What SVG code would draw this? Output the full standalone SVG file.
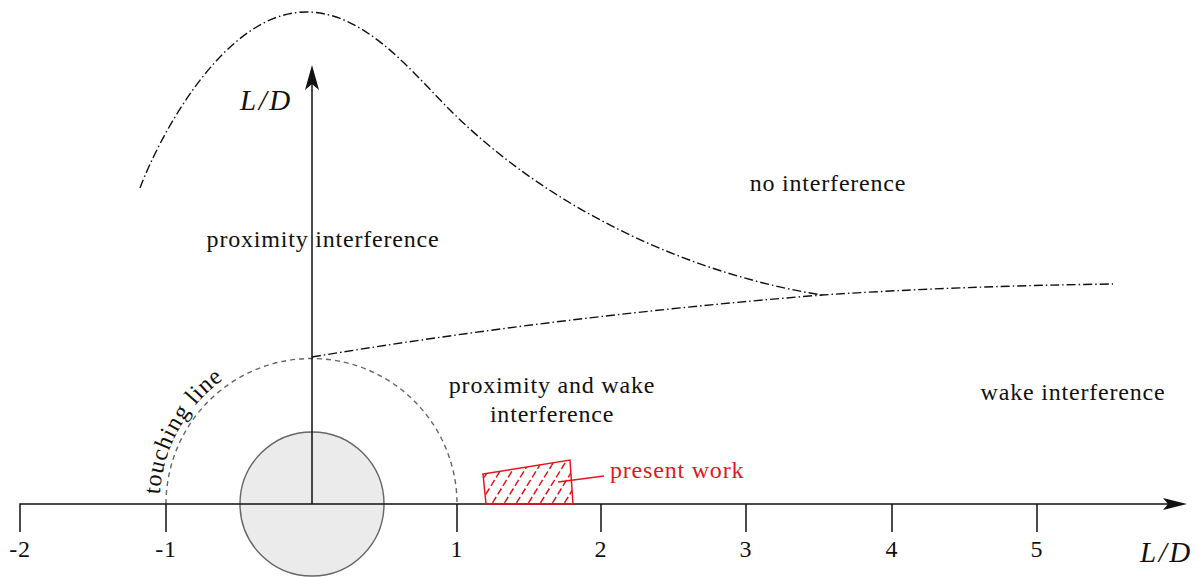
<svg xmlns="http://www.w3.org/2000/svg" width="1202" height="577" viewBox="0 0 1202 577">
<style>
text{font-family:"Liberation Serif","Times New Roman",serif;font-size:24px;fill:#111;letter-spacing:0.8px}
.c{text-anchor:middle}
.it{font-style:italic;font-size:29px;letter-spacing:2.5px}
.ax{stroke:#111;stroke-width:1.5;fill:none}
.dd{stroke:#111;stroke-width:1.4;fill:none;stroke-dasharray:9 3 1.5 3}
.red{stroke:#e8141b;stroke-width:1.5;fill:none}
</style>
<defs>
<clipPath id="hc"><polygon points="483,474 570,460 573,504 486,504"/></clipPath>
</defs>
<g id="regions">
<path class="dd" d="M140,188 C160,135 225,12 306,12 C365,12 410,70 450,110 C555,215 700,276 822,295"/>
<path class="dd" d="M312,357 Q560,316 822,295 Q960,286 1113,284"/>
</g>
<g id="cylinder">
<path d="M166,504 A145.5 145.5 0 0 1 457,504" fill="none" stroke="#666" stroke-width="1.4" stroke-dasharray="5 4"/>
<circle cx="312" cy="504" r="72" fill="#ebebeb" stroke="#666" stroke-width="1.4"/>
</g>
<g id="axes">
<path class="ax" d="M20,532 V504 H1170"/>
<path class="ax" d="M312,504 V82"/>
<path d="M1187,504 L1163,498 L1168,504 L1163,510 Z" fill="#111"/>
<path d="M312,65 L305,90 L312,84 L319,90 Z" fill="#111"/>
<path class="ax" d="M166,504 V532 M457,504 V532 M601,504 V532 M746,504 V532 M892,504 V532 M1037,504 V532"/>
<text class="c" x="20" y="557">-2</text>
<text class="c" x="166" y="557">-1</text>
<text class="c" x="457" y="557">1</text>
<text class="c" x="601" y="557">2</text>
<text class="c" x="746" y="557">3</text>
<text class="c" x="892" y="557">4</text>
<text class="c" x="1037" y="557">5</text>
<text class="it" x="1140" y="562">L/D</text>
<text class="it" x="240" y="110">L/D</text>
</g>
<g id="present-work">
<polygon class="red" points="483,474 570,460 573,504 486,504"/>
<g clip-path="url(#hc)" class="red" stroke-width="1.1" stroke-dasharray="7 3">
<path d="M470,520 L510,455 M482,520 L522,455 M494,520 L534,455 M506,520 L546,455 M518,520 L558,455 M530,520 L570,455 M542,520 L582,455 M554,520 L594,455 M566,520 L606,455 M458,520 L498,455"/>
</g>
<path class="red" d="M558,482 L604,476"/>
<text x="610" y="478" style="fill:#e8141b">present work</text>
</g>
<g id="labels">
<text class="c" x="828" y="191">no interference</text>
<text class="c" x="323" y="247">proximity interference</text>
<text class="c" x="552" y="393">proximity and wake</text>
<text class="c" x="552" y="422">interference</text>
<text class="c" x="1073" y="400">wake interference</text>
<path id="tp" d="M159.7,494.5 A153 153 0 0 1 270,356.9" fill="none"/>
<text><textPath href="#tp">touching line</textPath></text>
</g>
</svg>
